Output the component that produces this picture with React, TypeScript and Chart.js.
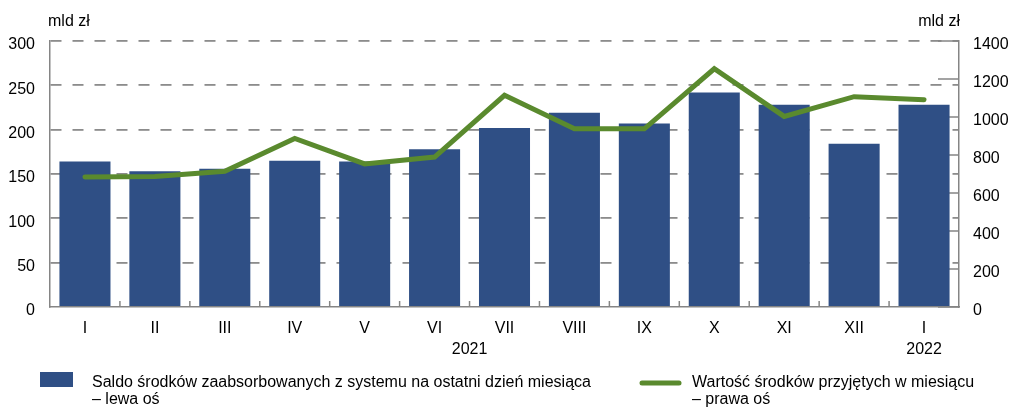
import React, { useEffect, useRef } from "react";
import { Chart, registerables } from "chart.js";

Chart.register(...registerables);

const months = ["I", "II", "III", "IV", "V", "VI", "VII", "VIII", "IX", "X", "XI", "XII", "I"];
const saldo = [164, 153, 156, 165, 164, 178, 202, 219, 207, 242, 228, 184, 228];
const wartosc = [684, 687, 714, 887, 753, 789, 1114, 938, 938, 1254, 1003, 1107, 1091];
const leftTicks = [0, 50, 100, 150, 200, 250, 300];
const rightTicks = [0, 200, 400, 600, 800, 1000, 1200, 1400];
const unitLabel = "mld zł";
const yearLabels = [
  { text: "2021", from: 0, to: 11 },
  { text: "2022", from: 12, to: 12 },
];
const legendBar = ["Saldo środków zaabsorbowanych z systemu na ostatni dzień miesiąca", "– lewa oś"];
const legendLine = ["Wartość środków przyjętych w miesiącu", "– prawa oś"];

const BLUE = "#2f4f85";
const GREEN = "#5a8a2e";
const GRAY = "#858585";
const FONT = "'Liberation Sans', Arial, sans-serif";
const FS = 16;

export default function App() {
  const ref = useRef<HTMLCanvasElement>(null);

  useEffect(() => {
    const canvas = ref.current;
    if (!canvas) return;

    const extras = {
      id: "extras",
      beforeDatasetsDraw(chart: any) {
        const { ctx, chartArea } = chart;
        const x = chart.scales.x;
        const y1 = chart.scales.y1;
        ctx.save();
        ctx.strokeStyle = GRAY;
        ctx.lineWidth = 1.5;
        ctx.setLineDash([]);
        for (let i = 1; i < months.length; i++) {
          const px = (x.getPixelForValue(i - 1) + x.getPixelForValue(i)) / 2;
          ctx.beginPath();
          ctx.moveTo(px, chartArea.bottom);
          ctx.lineTo(px, chartArea.bottom - 6);
          ctx.stroke();
        }
        for (const v of rightTicks) {
          const py = y1.getPixelForValue(v);
          ctx.beginPath();
          ctx.moveTo(chartArea.right, py);
          ctx.lineTo(chartArea.right - 21, py);
          ctx.stroke();
        }
        ctx.restore();
      },
      afterDraw(chart: any) {
        const { ctx, chartArea } = chart;
        const x = chart.scales.x;
        ctx.save();
        ctx.fillStyle = "#000";
        ctx.font = `${FS}px ${FONT}`;
        ctx.textBaseline = "middle";
        ctx.textAlign = "left";
        ctx.fillText(unitLabel, chartArea.left - 2, 22);
        ctx.textAlign = "right";
        ctx.fillText(unitLabel, chartArea.right + 1, 22);
        ctx.textAlign = "center";
        const half = (x.getPixelForValue(1) - x.getPixelForValue(0)) / 2;
        for (const yl of yearLabels) {
          const cx = (x.getPixelForValue(yl.from) - half + x.getPixelForValue(yl.to) + half) / 2;
          ctx.fillText(yl.text, cx, 350);
        }
        ctx.textAlign = "left";
        ctx.textBaseline = "alphabetic";
        ctx.fillStyle = BLUE;
        ctx.fillRect(40, 372, 33, 15);
        ctx.fillStyle = "#000";
        ctx.fillText(legendBar[0], 92, 387);
        ctx.fillText(legendBar[1], 92, 404);
        ctx.strokeStyle = GREEN;
        ctx.lineWidth = 5;
        ctx.lineCap = "round";
        ctx.beginPath();
        ctx.moveTo(642, 383);
        ctx.lineTo(679, 383);
        ctx.stroke();
        ctx.fillText(legendLine[0], 692, 387);
        ctx.fillText(legendLine[1], 692, 404);
        ctx.restore();
      },
    };

    const tickFont = { family: FONT, size: FS };
    const chart = new Chart(canvas, {
      type: "bar",
      data: {
        labels: months,
        datasets: [
          {
            type: "line",
            label: legendLine.join(" "),
            data: wartosc,
            yAxisID: "y1",
            borderColor: GREEN,
            backgroundColor: GREEN,
            borderWidth: 5,
            pointRadius: 0,
            tension: 0,
            borderCapStyle: "round",
            borderJoinStyle: "miter",
            order: 0,
          } as any,
          {
            type: "bar",
            label: legendBar.join(" "),
            data: saldo,
            yAxisID: "y",
            backgroundColor: BLUE,
            borderWidth: 0,
            categoryPercentage: 1,
            barPercentage: 0.73,
            order: 1,
          },
        ],
      },
      options: {
        responsive: false,
        animation: false,
        layout: { padding: { top: 41, left: 0, right: 0, bottom: 0 } },
        plugins: { legend: { display: false }, tooltip: { enabled: false } },
        scales: {
          x: {
            offset: true,
            grid: { display: false },
            border: { display: true, color: GRAY, width: 1.5 },
            ticks: { color: "#000", font: tickFont, padding: 4, maxRotation: 0, autoSkip: false },
            afterFit: (s: any) => { s.height = 103; },
          },
          y: {
            position: "left",
            min: 0,
            max: 300,
            afterBuildTicks: (s: any) => { s.ticks = leftTicks.map((v) => ({ value: v })); },
            grid: {
              color: (c: any) => (c.tick && c.tick.value === 0 ? "rgba(0,0,0,0)" : "#8c8c8c"),
              lineWidth: 1.8,
              drawTicks: false,
            },
            border: { display: true, color: GRAY, width: 1.5, dash: [11, 11] },
            ticks: { color: "#000", font: tickFont, padding: 15, labelOffset: 4, callback: (v: any) => String(v) },
            afterFit: (s: any) => { s.width = 50; },
          },
          y1: {
            position: "right",
            min: 0,
            max: 1400,
            afterBuildTicks: (s: any) => { s.ticks = rightTicks.map((v) => ({ value: v })); },
            grid: { drawOnChartArea: false, drawTicks: false },
            border: { display: true, color: GRAY, width: 1.5 },
            ticks: { color: "#000", font: tickFont, padding: 14, labelOffset: 4, callback: (v: any) => String(v) },
            afterFit: (s: any) => { s.width = 50; },
          },
        },
      },
      plugins: [extras],
    });
    return () => chart.destroy();
  }, []);

  return (
    <div style={{ position: "absolute", left: 0, top: 0, width: 1009, height: 410, background: "#fff" }}>
      <canvas ref={ref} width={1009} height={410} style={{ display: "block" }} />
    </div>
  );
}
